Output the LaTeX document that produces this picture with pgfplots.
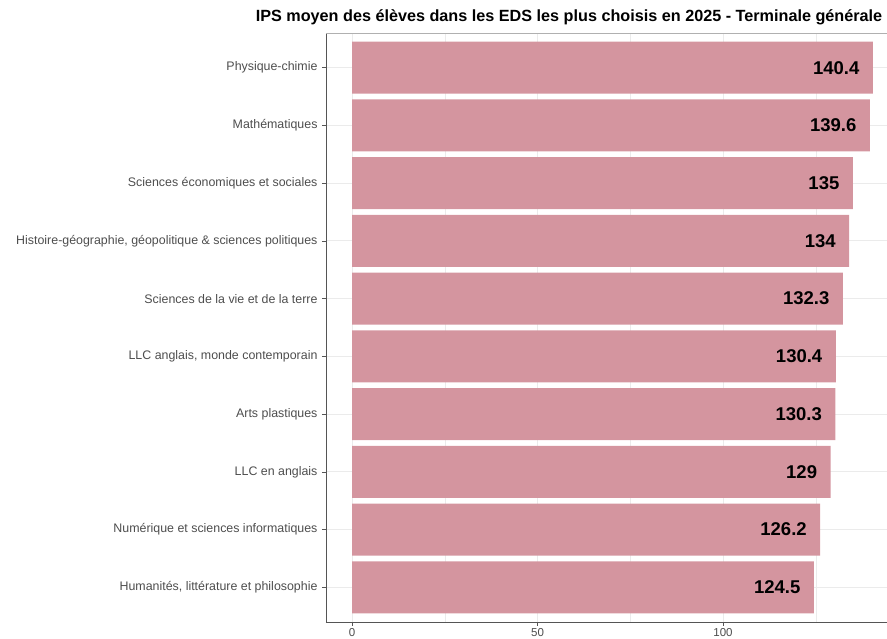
\documentclass[border=0pt]{standalone}
\usepackage{pgfplots}
\pgfplotsset{compat=1.18}
\usepackage{fontspec}
\setmainfont{Liberation Sans}
\definecolor{barfill}{HTML}{D4959F}
\definecolor{gridc}{HTML}{EBEBEB}
\definecolor{ticklab}{HTML}{4D4D4D}
\definecolor{axc}{HTML}{555555}
\definecolor{topc}{HTML}{B0B0B0}
\begin{document}
\begin{tikzpicture}[x=1pt,y=1pt]
\path[use as bounding box] (0,0) rectangle (887,639);
\begin{axis}[
  at={(326pt,17pt)}, anchor=south west,
  scale only axis, width=561pt, height=589pt,
  xmin=-7.02, xmax=144.2, ymin=0.4, ymax=10.6,
  axis x line*=bottom, axis y line*=left,
  axis line style={-, draw=axc, line width=0.7pt},
  xtick={0,50,100}, minor xtick={25,75,125},
  ytick={1,...,10},
  yticklabels={{Humanités, littérature et philosophie},
    Numérique et sciences informatiques,
    LLC en anglais,
    Arts plastiques,
    {LLC anglais, monde contemporain},
    Sciences de la vie et de la terre,
    {Histoire-géographie, géopolitique \& sciences politiques},
    Sciences économiques et sociales,
    Mathématiques,
    Physique-chimie},
  tick align=outside,
  major tick length=4pt, minor tick length=0pt,
  tick style={draw=axc, line width=0.7pt},
  xmajorgrids, xminorgrids, ymajorgrids,
  major grid style={draw=gridc, line width=0.9pt},
  minor grid style={draw=gridc, line width=0.5pt},
  yticklabel style={font=\fontsize{12.4}{14}\selectfont, text=ticklab, xshift=-1pt},
  xticklabel style={font=\fontsize{11.5}{13}\selectfont, text=ticklab, yshift=1pt},
  /pgf/number format/assume math mode=true,
  clip=false,
]
\addplot[xbar, bar width=0.9, fill=barfill, draw=none,
  nodes near coords,
  nodes near coords style={anchor=east, xshift=-10pt, font=\bfseries\fontsize{18.5}{18}\selectfont, text=black, /pgf/number format/assume math mode=true}
] coordinates {
  (124.5,1) (126.2,2) (129,3) (130.3,4) (130.4,5)
  (132.3,6) (134,7) (135,8) (139.6,9) (140.4,10)
};
\draw[topc, line width=0.7pt] (rel axis cs:0,1) -- (rel axis cs:1,1);
\end{axis}
\node[anchor=base, font=\bfseries\fontsize{16.2}{18}\selectfont] at (569,617) {IPS moyen des élèves dans les EDS les plus choisis en 2025 - Terminale générale};
\end{tikzpicture}
\end{document}
